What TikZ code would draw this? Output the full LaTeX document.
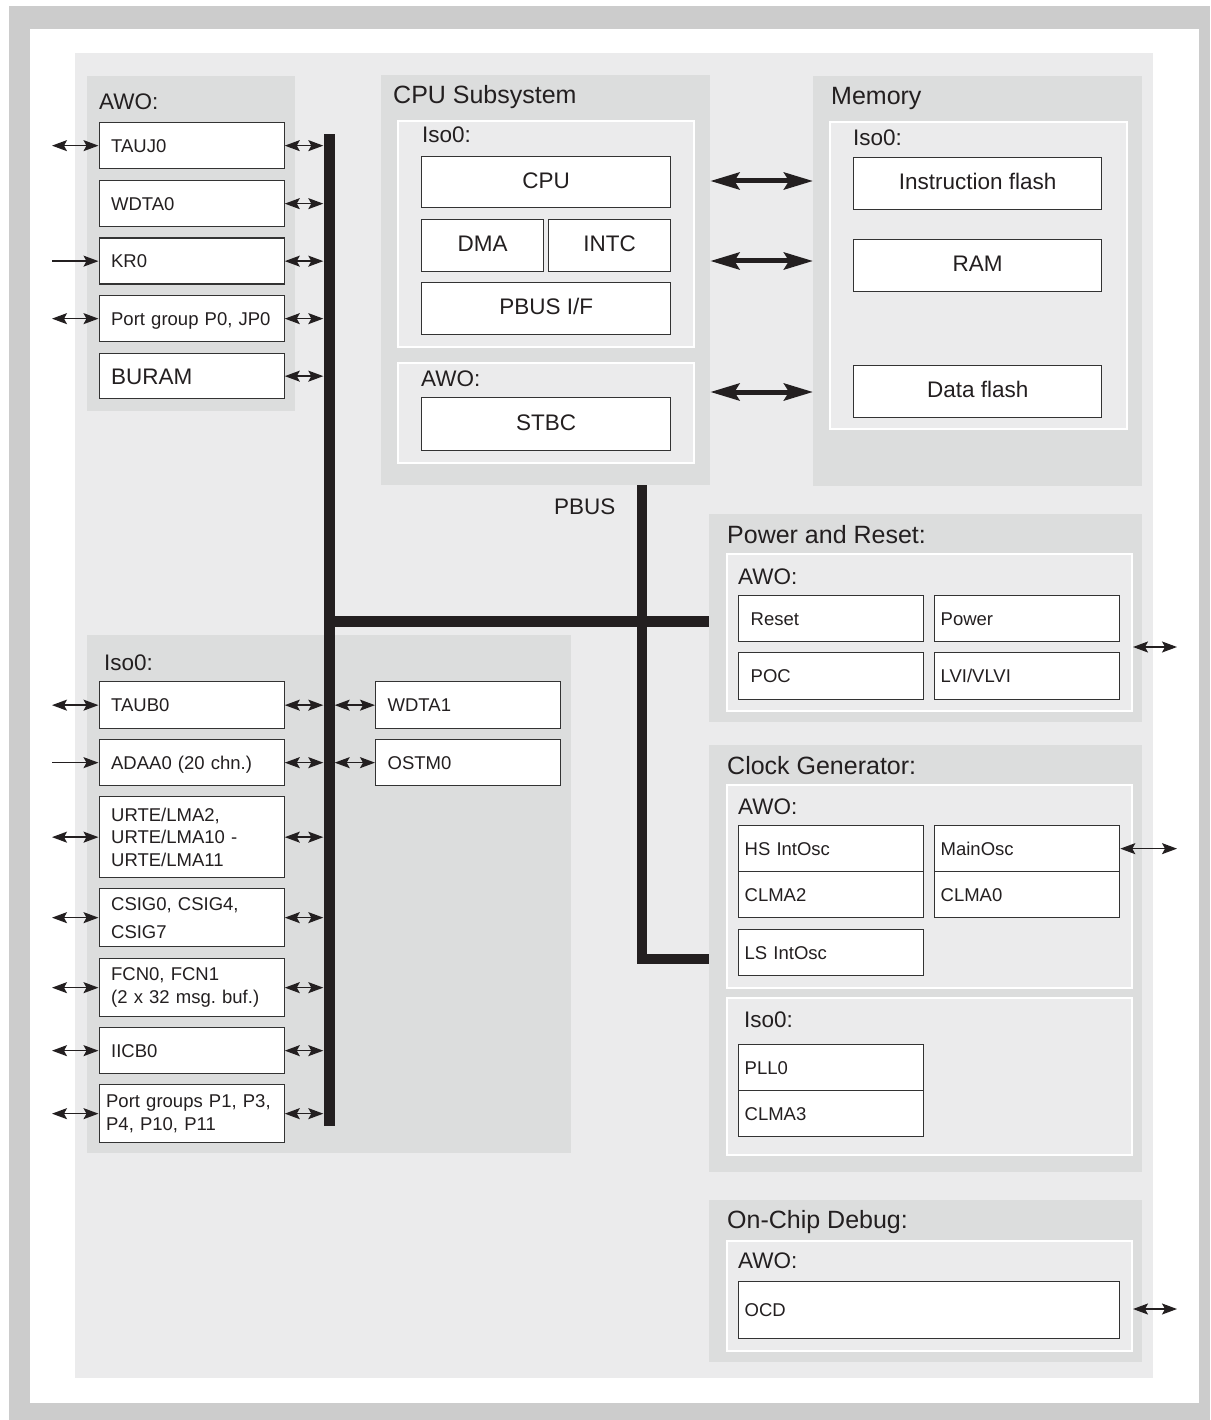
\documentclass[tikz,border=0pt]{standalone}
\usepackage{fontspec}
\setmainfont{Liberation Sans}
\usetikzlibrary{arrows.meta}
\frenchspacing
\definecolor{framegray}{HTML}{CCCCCC}
\definecolor{mainbg}{HTML}{EBEBEC}
\definecolor{grpbg}{HTML}{DCDDDD}
\definecolor{ink}{HTML}{231F20}
\definecolor{bord}{HTML}{333333}
\newcommand\mybox[6]{\node[#6, anchor=north west, minimum width={#4pt-#2pt}, minimum height={#5pt-#3pt}] (#1) at (#2,#3)}
\begin{document}
\begin{tikzpicture}[x=1pt,y=-1pt,
  grp/.style={fill=grpbg, draw=none, inner sep=0pt},
  inr/.style={fill=mainbg, draw=white, line width=2pt, inner sep=0pt},
  sbox/.style={draw=bord, fill=white, line width=1.3pt, text=ink, font=\fontsize{18.5}{22.5}\selectfont, align=left, text width=161pt, inner xsep=12pt, inner ysep=0pt},
  sboxb/.style={sbox, text width=173pt, inner xsep=6pt},
  one/.style={text height=13.4pt, text depth=0pt},
  cbox/.style={draw=bord, fill=white, line width=1.3pt, text=ink, font=\fontsize{22.5}{27}\selectfont, inner sep=0pt, text height=16.1pt, text depth=4pt},
  ttl/.style={anchor=base west, inner sep=0pt, text=ink, font=\fontsize{25}{30}\selectfont},
  sub/.style={anchor=base west, inner sep=0pt, text=ink, font=\fontsize{22.5}{27}\selectfont},
  sarr/.style={draw=ink, line width=1.4pt, {Stealth[length=15pt,width=11pt,inset=3pt]}-{Stealth[length=15pt,width=11pt,inset=3pt]}},
  inarr/.style={draw=ink, line width=1.4pt, -{Stealth[length=15pt,width=11pt,inset=3pt]}},
  barr/.style={draw=ink, line width=5pt, {Stealth[length=29pt,width=17pt,inset=5pt]}-{Stealth[length=29pt,width=17pt,inset=5pt]}},
  busw/.style={draw=ink, line width=11pt, line cap=butt, line join=miter},
]
\useasboundingbox (0,0) rectangle (1210,1420);
% frame and background
\fill[framegray] (9,6) rectangle (1210,1420);
\fill[white] (30,29) rectangle (1199,1403);
\fill[mainbg] (75,53) rectangle (1153,1378);

% groups
\mybox{awotop}{87}{76}{295}{411}{grp} {};
\mybox{cpusys}{381}{75}{710}{485}{grp} {};
\mybox{memory}{813}{76}{1142}{486}{grp} {};
\mybox{isolow}{87}{635}{571}{1153}{grp} {};
\mybox{pwr}{709}{514}{1142}{722}{grp} {};
\mybox{cg}{709}{745}{1142}{1172}{grp} {};
\mybox{dbg}{709}{1200}{1142}{1362}{grp} {};

% inner areas
\mybox{cpuiso}{397}{120}{693}{346}{inr} {};
\mybox{cpuawo}{397}{362}{693}{462}{inr} {};
\mybox{meminr}{829}{121}{1126}{428}{inr} {};
\mybox{pwrin}{726}{553}{1131}{710}{inr} {};
\mybox{cgawo}{726}{784}{1131}{987}{inr} {};
\mybox{cgiso}{726}{997}{1131}{1154}{inr} {};
\mybox{ocdin}{726}{1240}{1131}{1350}{inr} {};

% titles
\node[sub] (t-awotop) at (99,110) {AWO:};
\node[ttl] (t-cpu) at (393,104) {CPU Subsystem};
\node[sub] (t-cpuiso) at (422,143) {Iso0:};
\node[sub] (t-cpuawo) at (421,386) {AWO:};
\node[ttl] (t-mem) at (831,105) {Memory};
\node[sub] (t-memiso) at (853,146) {Iso0:};
\node[sub] (t-isolow) at (104,670) {Iso0:};
\node[ttl] (t-pwr) at (727,543) {Power and Reset:};
\node[sub] (t-pwrawo) at (738,584) {AWO:};
\node[ttl] (t-cg) at (727,774) {Clock Generator:};
\node[sub] (t-cgawo) at (738,814) {AWO:};
\node[sub] (t-cgiso) at (744,1027) {Iso0:};
\node[ttl] (t-dbg) at (727,1228) {On-Chip Debug:};
\node[sub] (t-dbgawo) at (738,1268) {AWO:};
\node[sub] (t-pbus) at (554,514) {PBUS};

% CPU subsystem blocks
\mybox{cpu}{421}{156}{670}{207}{cbox} {CPU};
\mybox{dma}{421}{219}{543}{271}{cbox} {DMA};
\mybox{intc}{548}{219}{670}{271}{cbox} {INTC};
\mybox{pbusif}{421}{282}{670}{334}{cbox} {PBUS I/F};
\mybox{stbc}{421}{397}{670}{450}{cbox} {STBC};

% memory blocks
\mybox{iflash}{853}{157}{1101}{209}{cbox} {Instruction flash};
\mybox{ram}{853}{239}{1101}{291}{cbox} {RAM};
\mybox{dflash}{853}{365}{1101}{417}{cbox} {Data flash};

% top-left AWO blocks
\mybox{tauj0}{98.5}{122}{283}{168}{sbox,one} {TAUJ0};
\mybox{wdta0}{98.5}{180}{283}{226}{sbox,one} {WDTA0};
\mybox{kr0}{98.5}{237.5}{283}{283.5}{sbox,one} {KR0};
\mybox{pg0}{98.5}{295}{283}{341}{sbox,one} {\mbox{Port group P0, JP0}};
\mybox{buram}{98.5}{353}{283}{398}{sbox,one,font=\fontsize{22.5}{27}\selectfont,text height=16.1pt} {BURAM};

% lower-left Iso0 blocks
\mybox{taub0}{98.5}{681}{283}{728}{sbox,one} {TAUB0};
\mybox{adaa0}{98.5}{739}{283}{785}{sbox,one} {ADAA0 (20 chn.)};
\mybox{urte}{98.5}{796}{283}{877}{sbox} {URTE/LMA2,\\URTE/LMA10 -\\URTE/LMA11};
\mybox{csig}{98.5}{888}{283}{946}{sbox} {CSIG0, CSIG4,\\[5.5pt]CSIG7};
\mybox{fcn}{98.5}{958}{283}{1016}{sbox} {FCN0, FCN1\\(2 x 32 msg. buf.)};
\mybox{iicb0}{98.5}{1027}{283}{1073}{sbox,one} {IICB0};
\mybox{pgs}{98.5}{1084}{283}{1142}{sbox,text width=171pt,inner xsep=7pt} {Port groups P1, P3,\\P4, P10, P11};
\mybox{wdta1}{375}{681}{560}{728}{sbox,one} {WDTA1};
\mybox{ostm0}{375}{739}{560}{785}{sbox,one} {OSTM0};

% power and reset
\mybox{reset}{738}{595}{923}{641}{sbox,one} {Reset};
\mybox{power}{934}{595}{1119}{641}{sboxb,one} {Power};
\mybox{poc}{738}{652}{923}{699}{sbox,one} {POC};
\mybox{lvi}{934}{652}{1119}{699}{sboxb,one} {LVI/VLVI};

% clock generator
\mybox{hsosc}{738}{825}{923}{871}{sboxb,one} {HS IntOsc};
\mybox{clma2}{738}{871}{923}{917}{sboxb,one} {CLMA2};
\mybox{mainosc}{934}{825}{1119}{871}{sboxb,one} {MainOsc};
\mybox{clma0}{934}{871}{1119}{917}{sboxb,one} {CLMA0};
\mybox{lsosc}{738}{929}{923}{975}{sboxb,one} {LS IntOsc};
\mybox{pll0}{738}{1044}{923}{1090}{sboxb,one} {PLL0};
\mybox{clma3}{738}{1090}{923}{1136}{sboxb,one} {CLMA3};

% debug
\mybox{ocd}{738}{1281}{1119}{1338}{sboxb,one,text width=369pt} {OCD};

% peripheral bus
\node[fill=ink, draw=none, inner sep=0pt, minimum width=11pt, minimum height=992pt, anchor=north] (bus) at (329,134) {};
\coordinate (hb) at (0,621.5);
\coordinate (pb) at (642,0);
\coordinate (cgw) at (0,959);
\draw[busw] (bus.center |- hb) -- (pwr.west |- hb);
\draw[busw, line width=10pt] (cpusys.south -| pb) -- (pb |- cgw) -- (cg.west |- cgw);

% big arrows CPU <-> memory
\coordinate (a1) at (0,181);
\coordinate (a2) at (0,261);
\coordinate (a3) at (0,392);
\draw[barr] (cpusys.east |- a1) -- (memory.west |- a1);
\draw[barr] (cpusys.east |- a2) -- (memory.west |- a2);
\draw[barr] (cpusys.east |- a3) -- (memory.west |- a3);

% left external connections
\coordinate (lext) at (52,0);
\foreach \n in {tauj0,pg0,taub0,urte,csig,fcn,iicb0,pgs}
  \draw[sarr] (\n.west -| lext) -- (\n.west);
\foreach \n in {kr0,adaa0}
  \draw[inarr] (\n.west -| lext) -- (\n.west);

% bus connections
\foreach \n in {tauj0,wdta0,kr0,pg0,buram,taub0,adaa0,urte,csig,fcn,iicb0,pgs}
  \draw[sarr] (\n.east) -- (\n.east -| bus.west);
\foreach \n in {wdta1,ostm0}
  \draw[sarr] (\n.west -| bus.east) -- (\n.west);

% right external connections
\coordinate (pwrext) at (1177,647);
\coordinate (ocdext) at (1177,1309);
\draw[sarr] (pwrext -| pwrin.east) -- (pwrext);
\draw[sarr] (mainosc.east) -- (mainosc.east -| pwrext);
\draw[sarr] (ocdext -| ocdin.east) -- (ocdext);
\end{tikzpicture}
\end{document}
